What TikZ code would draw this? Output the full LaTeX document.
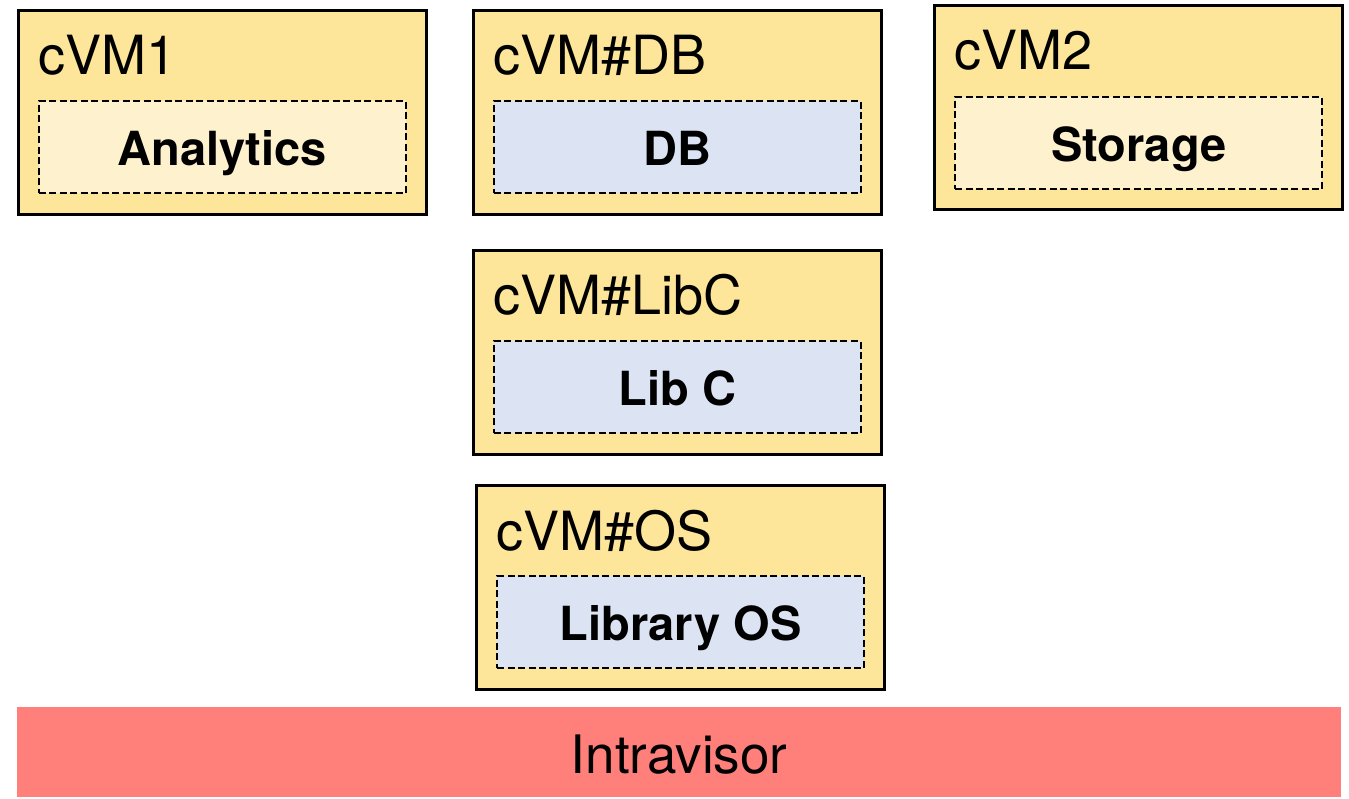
\documentclass[tikz,border=0pt]{standalone}
\usepackage{fontspec}
\setmainfont{TeX Gyre Heros}
\definecolor{vmyellow}{HTML}{FDE59A}
\definecolor{applight}{HTML}{FEF1CD}
\definecolor{libblue}{HTML}{DCE4F4}
\definecolor{hvred}{HTML}{FF7F7A}
\tikzset{
  vm/.style={draw=black, line width=2.6pt, fill=vmyellow, anchor=north west,
             inner sep=0pt, minimum width=408pt, minimum height=204pt},
  comp/.style={draw=black, line width=2.4pt, dash pattern=on 7pt off 3.5pt,
               anchor=north west, inner sep=0pt, minimum width=367pt, minimum height=92pt},
  vmlabel/.style={anchor=base west, inner sep=0pt, font=\fontsize{54}{60}\selectfont},
  complabel/.style={anchor=base, inner sep=0pt, font=\bfseries\fontsize{47}{56}\selectfont},
}
\begin{document}
\begin{tikzpicture}[x=1pt, y=-1pt]
\useasboundingbox (0,0) rectangle (1349,799);

% compartmentalised VMs
\node[vm] (vm1) at (17,9) {};
\node[vm] (vmdb) at (472,9) {};
\node[vm] (vm2) at (933,4) {};
\node[vm] (vmlibc) at (472,249) {};
\node[vm] (vmos) at (475,484) {};

\node[vmlabel] (l1) at ([xshift=21pt, yshift=-66pt]vm1.north west) {cVM1};
\node[vmlabel] (ldb) at ([xshift=21pt, yshift=-66pt]vmdb.north west) {cVM\#DB};
\node[vmlabel] (l2) at ([xshift=21pt, yshift=-66pt]vm2.north west) {cVM2};
\node[vmlabel] (llibc) at ([xshift=21pt, yshift=-66pt]vmlibc.north west) {cVM\#LibC};
\node[vmlabel] (los) at ([xshift=21pt, yshift=-66pt]vmos.north west) {cVM\#OS};

% components inside each VM
\node[comp, fill=applight] (analytics) at (37.5,100) {};
\node[comp, fill=libblue] (db) at (492.5,100) {};
\node[comp, fill=applight] (storage) at (954,96) {};
\node[comp, fill=libblue] (libc) at (492.5,340) {};
\node[comp, fill=libblue] (libos) at (496,575) {};

\node[complabel] (tanalytics) at ([yshift=-18pt]analytics.center) {Analytics};
\node[complabel] (tdb) at ([yshift=-18pt]db.center) {DB};
\node[complabel] (tstorage) at ([yshift=-18pt]storage.center) {Storage};
\node[complabel] (tlibc) at ([yshift=-18pt]libc.center) {Lib C};
\node[complabel] (tlibos) at ([yshift=-18pt]libos.center) {Library OS};

% hypervisor layer
\node[fill=hvred, anchor=north west, inner sep=0pt, minimum width=1324pt,
      minimum height=90pt] (hv) at (17,707) {};
\node[anchor=base, inner sep=0pt, font=\fontsize{53}{60}\selectfont]
  (thv) at ([yshift=-21pt]hv.center) {Intravisor};
\end{tikzpicture}
\end{document}
